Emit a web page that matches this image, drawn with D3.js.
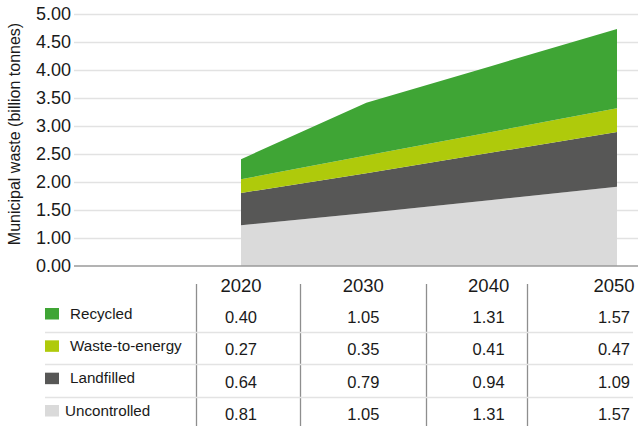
<!DOCTYPE html>
<html>
<head>
<meta charset="utf-8">
<script src="https://cdn.jsdelivr.net/npm/d3@7"></script>
<style>
  body { margin: 0; background: #fff; }
  text { font-family: "Liberation Sans", Arial, sans-serif; fill: #1a1a1a; }
</style>
</head>
<body>
<div id="chart"></div>
<script>
// data
var years = [2020, 2030, 2040, 2050];
var series = ["Recycled", "Waste-to-energy", "Landfilled", "Uncontrolled"];
var recycled     = [0.40, 1.05, 1.31, 1.57];
var wasteToEnergy = [0.27, 0.35, 0.41, 0.47];
var landfilled   = [0.64, 0.79, 0.94, 1.09];
var uncontrolled = [0.81, 1.05, 1.31, 1.57];
var colors = ["#3fa535", "#afca0b", "#575756", "#dadada"];
// the original axis labels (spaced in 9 equal steps)
var tickLabels = ["0.00", "1.00", "1.50", "2.00", "2.50", "3.00", "3.50", "4.00", "4.50", "5.00"];

var width = 638, height = 426;
var colSeps = [196, 300, 426, 527];

var svg = d3.select("#chart").append("svg")
  .attr("width", width)
  .attr("height", height);

var x = d3.scaleLinear().domain([2020, 2050]).range([241, 617]);
var y = d3.scaleLinear().domain([0, 5]).range([266, 14]);

var values = [recycled, wasteToEnergy, landfilled, uncontrolled];

// build rows for the stack
var rows = years.map(function(yr, i) {
  var r = {year: yr};
  series.forEach(function(s, j) { r[s] = values[j][i]; });
  return r;
});

// stack bottom-up: Uncontrolled first
var stack = d3.stack().keys(series.slice().reverse());
var layers = stack(rows);

// gridlines
var tickVals = d3.range(tickLabels.length).map(function(i) { return i * 5 / (tickLabels.length - 1); });

svg.selectAll(".grid").data(tickVals.slice(1)).enter()
  .append("line")
  .attr("class", "grid")
  .attr("x1", 74).attr("x2", width)
  .attr("y1", function(d) { return Math.round(y(d)) + 0.5; })
  .attr("y2", function(d) { return Math.round(y(d)) + 0.5; })
  .attr("stroke", "#e2e2e2")
  .attr("stroke-width", 1.5);

// areas
var area = d3.area()
  .x(function(d) { return x(d.data.year); })
  .y0(function(d) { return y(d[0]); })
  .y1(function(d) { return y(d[1]); });

svg.selectAll(".layer").data(layers).enter()
  .append("path")
  .attr("class", "layer")
  .attr("d", area)
  .attr("fill", function(d) { return colors[series.indexOf(d.key)]; });

// zero line
svg.append("line")
  .attr("x1", 74).attr("x2", width)
  .attr("y1", y(0)).attr("y2", y(0))
  .attr("stroke", "#9a9a9a")
  .attr("stroke-width", 1.5);

// y tick labels
svg.selectAll(".ytick").data(tickVals).enter()
  .append("text")
  .attr("class", "ytick")
  .attr("x", 71)
  .attr("y", function(d) { return y(d); })
  .attr("dy", "0.36em")
  .attr("text-anchor", "end")
  .style("font-size", "18px")
  .text(function(d, i) { return tickLabels[i]; });

// y title
svg.append("text")
  .attr("transform", "translate(20,134) rotate(-90)")
  .attr("text-anchor", "middle")
  .style("font-size", "16px")
  .text("Municipal waste (billion tonnes)");

// table
var row = d3.scalePoint().domain(series).range([316, 413]);

svg.selectAll(".vsep").data(colSeps).enter()
  .append("line")
  .attr("class", "vsep")
  .attr("x1", function(d) { return d + 0.5; })
  .attr("x2", function(d) { return d + 0.5; })
  .attr("y1", 284).attr("y2", height)
  .attr("stroke", "#8e8e8e")
  .attr("stroke-width", 1.3);

svg.selectAll(".hsep").data(series.slice(0, -1)).enter()
  .append("line")
  .attr("class", "hsep")
  .attr("x1", 45).attr("x2", 633)
  .attr("y1", function(d) { return Math.round(row(d) + 16) + 0.5; })
  .attr("y2", function(d) { return Math.round(row(d) + 16) + 0.5; })
  .attr("stroke", "#e3e3e3")
  .attr("stroke-width", 1.5);

svg.selectAll(".year").data(years).enter()
  .append("text")
  .attr("class", "year")
  .attr("x", function(d, i) { return x(d) - (i ? 3 : 0); })
  .attr("y", 291.5)
  .attr("text-anchor", "middle")
  .style("font-size", "18.5px")
  .text(function(d) { return d; });

series.forEach(function(s, j) {
  svg.append("rect")
    .attr("x", 45)
    .attr("y", row(s) - 8)
    .attr("width", 14)
    .attr("height", 11.5)
    .attr("fill", colors[j]);

  svg.append("text")
    .attr("x", j === 3 ? 65 : 70)
    .attr("y", row(s) + 2.5)
    .style("font-size", "15.2px")
    .text(s);

  svg.selectAll(".val" + j).data(values[j]).enter()
    .append("text")
    .attr("x", function(d, i) { return x(years[i]) - (i ? 3 : 0); })
    .attr("y", row(s) + 7)
    .attr("text-anchor", "middle")
    .style("font-size", "16.5px")
    .text(function(d) { return d.toFixed(2); });
});
</script>
</body>
</html>
